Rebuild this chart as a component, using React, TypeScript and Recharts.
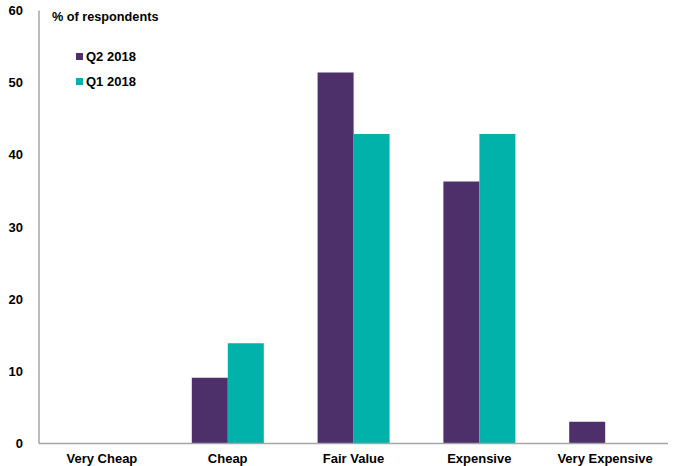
import React from "react";
import { BarChart, Bar, XAxis, YAxis, Legend } from "recharts";

const categories = ["Very Cheap", "Cheap", "Fair Value", "Expensive", "Very Expensive"];
const q2_2018 = [0, 9.1, 51.4, 36.3, 3.0];
const q1_2018 = [0, 13.9, 42.9, 42.9, 0];
const yTicks = [0, 10, 20, 30, 40, 50, 60];
const seriesNames = ["Q2 2018", "Q1 2018"];

const data = categories.map((c, i) => ({ name: c, q2: q2_2018[i], q1: q1_2018[i] }));

const FONT = "'Liberation Sans', Arial, sans-serif";
const PURPLE = "#4D2F69";
const TEAL = "#00B2A9";

const LegendContent = (props: any) => {
  const payload = [...(props.payload || [])].sort(
    (a: any, b: any) => seriesNames.indexOf(a.value) - seriesNames.indexOf(b.value)
  );
  return (
    <div style={{ fontFamily: FONT, fontWeight: "bold", color: "#000" }}>
      <div style={{ fontSize: 12.7, position: "absolute", left: 52, top: 10, whiteSpace: "nowrap" }}>% of respondents</div>
      {payload.map((p: any, i: number) => (
        <div
          key={i}
          style={{ position: "absolute", left: 76, top: 49 + i * 25, display: "flex", alignItems: "center", fontSize: 13, whiteSpace: "nowrap" }}
        >
          <span style={{ display: "inline-block", width: 7, height: 7, background: p.color, marginRight: 3 }} />
          {p.value}
        </div>
      ))}
    </div>
  );
};

export default function App() {
  return (
    <div style={{ position: "absolute", left: 0, top: 0, background: "#fff" }}>
      <BarChart
        width={677}
        height={466}
        data={data}
        margin={{ top: 10.5, right: 9, left: 0, bottom: 0 }}
        barCategoryGap={27}
        barGap={0}
      >
        <XAxis
          dataKey="name"
          height={22.5}
          tickLine={false}
          axisLine={{ stroke: "#A6A6A6", strokeWidth: 1.5 }}
          interval={0}
          tick={{ fontFamily: FONT, fontWeight: "bold", fontSize: 13, fill: "#000" }}
          tickMargin={4}
        />
        <YAxis
          width={39}
          domain={[0, 60]}
          ticks={yTicks}
          tickLine={false}
          axisLine={{ stroke: "#A6A6A6", strokeWidth: 1.5 }}
          tick={{ fontFamily: FONT, fontWeight: "bold", fontSize: 13, fill: "#000" }}
          tickMargin={10}
        />
        <Legend
          content={<LegendContent />}
          wrapperStyle={{ position: "absolute", left: 0, top: 0, width: 677, height: 0 }}
        />
        <Bar dataKey="q2" name="Q2 2018" fill={PURPLE} isAnimationActive={false} />
        <Bar dataKey="q1" name="Q1 2018" fill={TEAL} isAnimationActive={false} />
      </BarChart>
    </div>
  );
}
